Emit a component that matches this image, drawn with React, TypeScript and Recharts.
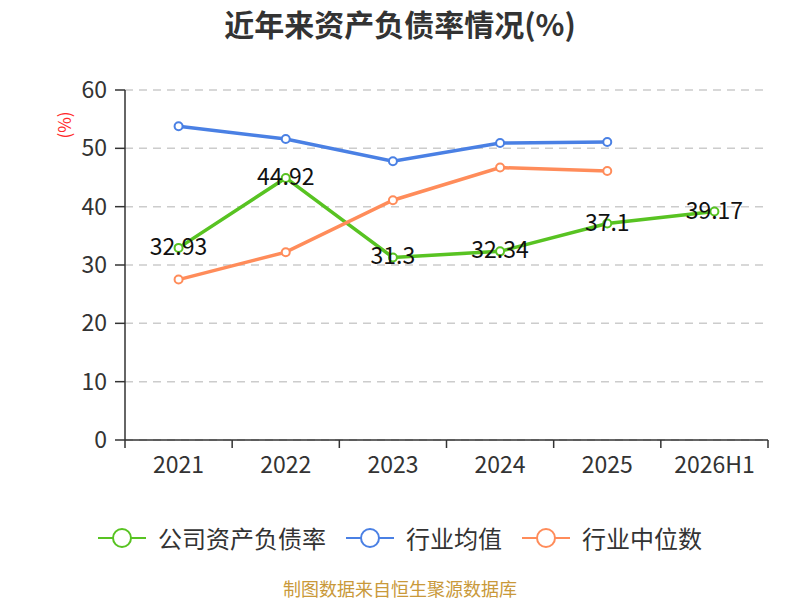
import { CartesianGrid, LabelList, Line, LineChart, XAxis, YAxis } from "recharts";

const years = ["2021", "2022", "2023", "2024", "2025", "2026H1"];
const companyRatio = [32.93, 44.92, 31.3, 32.34, 37.1, 39.17];
const industryAvg = [53.8, 51.6, 47.8, 50.9, 51.1, null];
const industryMedian = [27.5, 32.2, 41.1, 46.7, 46.1, null];
const yTicks = [0, 10, 20, 30, 40, 50, 60];

const seriesNames = ["公司资产负债率", "行业均值", "行业中位数"];
const colors = ["#58c322", "#4a80e4", "#ff8c5a"];

const data = years.map((year, i) => ({
  year,
  company: companyRatio[i],
  avg: industryAvg[i],
  median: industryMedian[i]
}));

const FONT = '"Noto Sans CJK SC", "Noto Sans", sans-serif';
const PLOT_LEFT = 125;
const PLOT_RIGHT = 768;
const bandWidth = (PLOT_RIGHT - PLOT_LEFT) / years.length;

function YearTick({ x, y, payload, index }: any) {
  const axisY = y - 16;
  return (
    <g>
      <line x1={x - bandWidth / 2} x2={x - bandWidth / 2} y1={axisY} y2={axisY + 8} stroke="#333" strokeWidth={1.5} />
      {index === years.length - 1 && (
        <line x1={x + bandWidth / 2} x2={x + bandWidth / 2} y1={axisY} y2={axisY + 8} stroke="#333" strokeWidth={1.5} />
      )}
      <text x={x} y={y} dy="0.75em" textAnchor="middle" fontSize={23} fill="#333" fontFamily={FONT}>
        {payload.value}
      </text>
    </g>
  );
}

function ValueLabel({ x, y, value }: any) {
  return (
    <text x={x} y={y - 3} textAnchor="middle" dominantBaseline="central" fontSize={23} fill="#111" fontFamily={FONT}>
      {value}
    </text>
  );
}

function UnitLabel({ viewBox }: any) {
  const cx = viewBox.x + 63;
  const cy = viewBox.y + 35;
  return (
    <text x={cx} y={cy} transform={`rotate(-90 ${cx} ${cy})`} textAnchor="middle" dominantBaseline="central" fontSize={17} fill="#ff2a2a" fontFamily={FONT}>
      (%)
    </text>
  );
}

function LegendIcon({ color }: { color: string }) {
  return (
    <svg width={48} height={22}>
      <line x1={0} x2={48} y1={11} y2={11} stroke={color} strokeWidth={2} />
      <circle cx={24} cy={11} r={9} fill="#fff" stroke={color} strokeWidth={2} />
    </svg>
  );
}

export default function App() {
  return (
    <div style={{ position: "absolute", left: 0, top: 0, width: 800, height: 600, background: "#fff", fontFamily: FONT, overflow: "hidden" }}>
      <div style={{ position: "absolute", top: 4, width: 800, textAlign: "center", fontSize: 30, fontWeight: 700, color: "#333", lineHeight: "38px" }}>
        近年来资产负债率情况(%)
      </div>
      <LineChart width={800} height={600} data={data} margin={{ top: 90, right: 32, bottom: 130, left: 0 }}>
        <CartesianGrid horizontal vertical={false} stroke="#ccc" strokeWidth={1.5} strokeDasharray="8 6" />
        <XAxis
          dataKey="year"
          scale="band"
          height={30}
          tickLine={false}
          tickSize={8}
          tickMargin={8}
          axisLine={{ stroke: "#333", strokeWidth: 1.5 }}
          tick={<YearTick />}
          interval={0}
        />
        <YAxis
          width={125}
          domain={[0, 60]}
          ticks={yTicks}
          tickSize={10}
          tickMargin={8}
          tickLine={{ stroke: "#333", strokeWidth: 1.5 }}
          axisLine={{ stroke: "#333", strokeWidth: 1.5 }}
          tick={{ fill: "#333", fontSize: 23, fontFamily: FONT }}
          label={<UnitLabel />}
        />
        <Line
          dataKey="company"
          type="linear"
          stroke={colors[0]}
          strokeWidth={3.5}
          dot={{ r: 4, fill: "#fff", stroke: colors[0], strokeWidth: 2 }}
          isAnimationActive={false}
        >
          <LabelList dataKey="company" content={<ValueLabel />} />
        </Line>
        <Line
          dataKey="avg"
          type="linear"
          stroke={colors[1]}
          strokeWidth={3.5}
          dot={{ r: 4, fill: "#fff", stroke: colors[1], strokeWidth: 2 }}
          isAnimationActive={false}
        />
        <Line
          dataKey="median"
          type="linear"
          stroke={colors[2]}
          strokeWidth={3.5}
          dot={{ r: 4, fill: "#fff", stroke: colors[2], strokeWidth: 2 }}
          isAnimationActive={false}
        />
      </LineChart>
      <div style={{ position: "absolute", top: 523, width: 800, display: "flex", justifyContent: "center", alignItems: "center", fontSize: 24, color: "#333", lineHeight: "30px" }}>
        {seriesNames.map((name, i) => (
          <div key={name} style={{ display: "flex", alignItems: "center", marginLeft: i === 0 ? 0 : 20 }}>
            <LegendIcon color={colors[i]} />
            <span style={{ marginLeft: 12 }}>{name}</span>
          </div>
        ))}
      </div>
      <div style={{ position: "absolute", top: 578, width: 800, textAlign: "center", fontSize: 18, color: "#c9993a", lineHeight: "20px" }}>
        制图数据来自恒生聚源数据库
      </div>
    </div>
  );
}
